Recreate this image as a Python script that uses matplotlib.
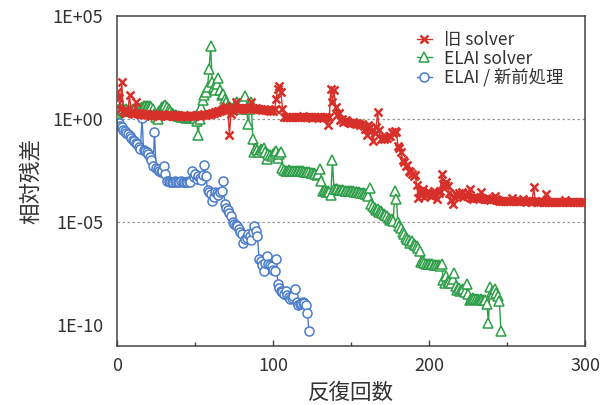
import numpy as np
import matplotlib
matplotlib.use('Agg')
import matplotlib.pyplot as plt
from matplotlib.ticker import NullLocator, MultipleLocator

plt.rcParams['font.family'] = ['Noto Sans CJK JP', 'DejaVu Sans']

# 相対残差 (log10) を反復ごとに読み取り
old_log10 = [
    1.3, 1.0, 0.5, 1.8, 0.4, 0.3, 0.3, 0.4, 1.15, 0.35,
    0.3, 0.25, 0.8, 0.3, 0.25, 0.3, 0.25, 0.2, 0.22, 0.18,
    0.25, 0.2, 0.15, 0.22, 0.2, 0.18, 0.2, 0.15, 0.2, 0.22,
    0.18, 0.2, 0.15, 0.18, 0.2, 0.15, 0.18, 0.15, 0.2, 0.18,
    0.15, 0.12, 0.15, 0.18, 0.15, 0.12, 0.15, 0.18, 0.15, 0.12,
    0.15, 0.18, 0.2, 0.15, 0.18, 0.2, 0.22, 0.2, 0.25, 0.22,
    0.25, 0.28, 0.3, 0.32, 0.35, 0.38, 0.4, 0.42, 0.5, 0.55,
    0.65, 0.5, -0.8, 0.25, 0.4, 0.55, 0.8, 0.55, 0.5, 0.55,
    0.52, 0.5, 0.55, 0.5, 0.52, 0.6, 0.8, 0.55, 0.5, 0.52,
    0.5, 0.48, 0.5, 0.45, 0.48, 0.45, 0.42, 0.45, 0.4, 0.42,
    0.4, 0.5, 0.97, 1.46, 1.62, 1.3, 0.5, 0.1, 0.1, 0.08,
    0.08, 0.1, 0.08, 0.07, 0.08, 0.1, 0.08, 0.08, 0.1, 0.12,
    0.08, 0.07, 0.1, 0.08, 0.08, 0.06, 0.08, 0.07, 0.08, 0.1,
    0.08, 0.08, 0.06, 0.08, 0.07, -0.3, 0.1, 1.46, 0.8, 1.4,
    0.6, 0.2, 0.3, -0.05, 0.0, -0.15, -0.1, -0.05, -0.15, -0.2,
    -0.2, -0.15, -0.2, -0.25, -0.2, -0.25, -0.3, -0.25, -0.35, -0.5,
    -0.8, -0.3, -0.4, -0.6, -1.05, -0.7, -0.4, 0.32, -0.55, -0.95,
    -0.9, -0.95, -0.9, -0.92, -0.85, -0.85, -0.65, -0.7, -0.6, -0.65,
    -1.3, -1.4, -1.6, -2.0, -2.1, -2.3, -2.25, -2.5, -2.55, -2.65,
    -2.75, -2.7, -3.2, -3.85, -3.5, -3.7, -3.4, -3.8, -3.7, -3.6,
    -3.55, -3.75, -3.6, -3.48, -3.7, -3.88, -3.6, -3.5, -2.67, -3.16,
    -3.2, -3.05, -3.25, -3.6, -3.95, -4.13, -3.8, -3.65, -3.75, -3.6,
    -3.7, -3.56, -3.8, -3.7, -3.75, -3.6, -3.4, -3.85, -3.88, -3.8,
    -3.85, -3.82, -3.85, -3.56, -3.85, -3.88, -3.9, -3.88, -3.9, -3.92,
    -3.9, -3.85, -3.72, -3.9, -3.95, -3.97, -3.96, -3.98, -3.97, -3.99,
    -3.98, -3.97, -3.99, -3.85, -3.98, -4.0, -3.99, -3.98, -4.0, -3.99,
    -3.88, -4.0, -4.01, -3.99, -4.0, -4.01, -4.0, -3.32, -4.0, -4.01,
    -4.02, -4.01, -4.0, -4.02, -4.01, -3.64, -4.02, -4.03, -4.02, -4.01,
    -4.02, -4.03, -4.02, -4.03, -4.02, -4.03, -4.02, -3.92, -4.03, -4.04,
    -4.03, -4.02, -4.03, -4.04, -4.03, -4.04, -4.03, -4.04, -4.03, -4.04, -4.04,
]

elai_log10 = [
    0.3, 0.9, 0.5, 0.4, 0.45, 0.4, 0.5, 0.45, 0.4, 0.45,
    0.5, 0.45, 0.4, 0.5, 0.45, 0.55, 0.6, 0.62, 0.63, 0.62,
    0.63, 0.62, 0.6, 0.5, 0.25, 0.1, 0.0, 0.4, 0.5, 0.6,
    0.65, 0.7, 0.6, 0.5, 0.4, 0.3, 0.25, 0.2, 0.2, 0.15,
    0.15, 0.1, 0.1, 0.1, 0.05, 0.1, 0.05, 0.1, 0.05, 0.1,
    0.05, -0.1, -0.8, 0.0, 0.6, 0.9, 1.15, 1.3, 1.55, 2.43,
    3.56, 1.8, 1.55, 1.4, 1.7, 2.0, 1.4, 1.15, 1.2, 0.95,
    0.8, 0.65, 0.6, 0.55, 0.5, 0.6, 0.75, 0.8, 0.6, 0.5,
    0.7, 0.9, 1.13, 0.5, -0.25, 0.5, 0.8, -0.97, -1.6, -1.4,
    -1.5, -1.6, -1.45, -1.5, -1.4, -1.6, -1.95, -1.7, -1.75, -1.8,
    -1.7, -1.6, -1.55, -1.9, -1.7, -1.6, -2.4, -2.48, -2.5, -2.5,
    -2.48, -2.5, -2.5, -2.52, -2.5, -2.5, -2.52, -2.5, -2.52, -2.52,
    -2.55, -2.55, -2.57, -2.58, -2.6, -2.62, -2.63, -2.67, -2.7, -2.65,
    -2.43, -3.0, -3.5, -3.45, -3.55, -3.5, -3.55, -3.7, -2.0, -3.4,
    -3.4, -3.42, -3.43, -3.44, -3.45, -3.46, -3.47, -3.47, -3.48, -3.49,
    -3.5, -3.51, -3.52, -3.52, -3.54, -3.55, -3.57, -3.58, -3.6, -3.62,
    -3.65, -3.72, -3.35, -4.13, -4.2, -4.3, -4.4, -4.35, -4.5, -4.45,
    -4.55, -4.6, -4.65, -4.7, -4.8, -4.9, -4.85, -4.95, -3.5, -3.9,
    -5.0, -5.2, -5.3, -5.5, -5.6, -5.7, -5.8, -5.85, -6.0, -5.9,
    -6.05, -6.1, -6.15, -6.25, -6.4, -6.95, -6.9, -7.0, -7.02, -7.03,
    -7.04, -7.05, -7.05, -7.06, -7.07, -7.08, -7.1, -7.12, -7.05, -7.8,
    -7.95, -7.6, -7.85, -7.9, -7.95, -7.75, -7.45, -8.1, -8.3, -8.2,
    -8.35, -8.3, -8.25, -8.4, -8.0, -8.5, -8.8, -8.75, -8.7, -8.72,
    -8.74, -8.75, -8.76, -8.75, -8.77, -8.78, -8.8, -8.98, -9.87, -8.17,
    -8.4, -8.5, -8.25, -8.45, -8.58, -8.82, -10.28,
]

new_log10 = [
    0.1, -0.2, -0.35, -0.4, -0.55, -0.6, -0.7, -0.75, -0.85, -0.9,
    -1.0, -1.05, -1.15, -1.2, -1.35, -1.45, 0.05, -1.5, -1.55, -1.6,
    -1.7, -1.85, -2.0, -2.3, -0.65, -2.4, -2.45, -2.5, -2.55, -2.5,
    -2.3, -2.65, -3.0, -3.03, -3.04, -3.05, -3.04, -3.03, -3.04, -3.05,
    -3.04, -3.03, -3.04, -3.05, -3.04, -3.04, -3.03, -3.04, -2.5, -2.8,
    -2.65, -2.9, -2.75, -2.85, -2.95, -2.7, -2.25, -2.75, -3.45, -3.55,
    -3.65, -4.0, -3.8, -3.55, -3.6, -3.7, -3.55, -3.5, -3.0, -4.1,
    -4.3, -4.4, -4.55, -4.7, -5.0, -5.1, -5.15, -5.2, -5.35, -5.5,
    -5.6, -6.0, -5.8, -5.75, -5.6, -5.65, -5.85, -5.5, -5.2, -5.45,
    -5.65, -6.8, -6.9, -7.1, -7.35, -7.0, -6.65, -7.05, -7.1, -7.15,
    -7.3, -7.35, -6.8, -8.0, -8.2, -8.35, -8.4, -8.5, -8.35, -8.55,
    -8.65, -8.75, -8.7, -8.6, -8.25, -8.85, -9.0, -8.95, -8.9, -8.85,
    -8.9, -9.0, -9.4, -10.3,
]

labels = ['旧 solver', 'ELAI solver', 'ELAI / 新前処理']
ytick_vals = [1e5, 1e0, 1e-5, 1e-10]
ytick_labels = ['1E+05', '1E+00', '1E-05', '1E-10']
xtick_vals = [0, 100, 200, 300]

red = '#d7302a'
green = '#2e9e48'
blue = '#4a7cc9'
txt = '#333333'

fig = plt.figure(figsize=(6.16, 4.05), dpi=100)
ax = fig.add_axes([0.19, 0.146, 0.76, 0.815])

ax.axhline(1e0, color='#999999', linestyle=(0, (2, 2)), linewidth=0.9, zorder=1)
ax.axhline(1e-5, color='#999999', linestyle=(0, (2, 2)), linewidth=0.9, zorder=1)

ax.plot(np.arange(len(new_log10)), np.power(10.0, new_log10), color=blue,
        linewidth=1.0, marker='o', markersize=6.5, markerfacecolor='white',
        markeredgecolor=blue, markeredgewidth=1.1, label=labels[2], zorder=2)
ax.plot(np.arange(len(elai_log10)), np.power(10.0, elai_log10), color=green,
        linewidth=1.0, marker='^', markersize=6.5, markerfacecolor='white',
        markeredgecolor=green, markeredgewidth=1.1, label=labels[1], zorder=3)
ax.plot(np.arange(len(old_log10)), np.power(10.0, old_log10), color=red,
        linewidth=1.0, marker='x', markersize=5.5, markeredgewidth=1.8,
        label=labels[0], zorder=4)

ax.set_yscale('log')
ax.set_ylim(1e-11, 1e5)
ax.set_xlim(0, 300)
ax.set_yticks(ytick_vals)
ax.set_yticklabels(ytick_labels)
ax.yaxis.set_minor_locator(NullLocator())
ax.set_xticks(xtick_vals)
ax.xaxis.set_minor_locator(MultipleLocator(50))

ax.tick_params(axis='y', length=0, pad=10, labelsize=13, labelcolor=txt)
ax.tick_params(axis='x', which='major', direction='in', length=4, width=1,
               pad=8, labelsize=13, labelcolor=txt, color='#444444')
ax.tick_params(axis='x', which='minor', direction='in', length=3, width=1,
               color='#444444')
for s in ax.spines.values():
    s.set_color('#444444')
    s.set_linewidth(1.1)

ax.set_xlabel('反復回数', fontsize=15.5, color=txt, labelpad=5)
ax.set_ylabel('相対残差', fontsize=15.5, color=txt, labelpad=8)

handles, labs = ax.get_legend_handles_labels()
order = [2, 1, 0]
leg = ax.legend([handles[i] for i in order], [labs[i] for i in order],
                loc='upper left', bbox_to_anchor=(0.64, 0.955), frameon=False,
                fontsize=12.5, handlelength=0.9, handletextpad=0.7,
                labelspacing=0.05, borderpad=0, borderaxespad=0)
for t in leg.get_texts():
    t.set_color(txt)

fig.savefig('out.png', dpi=100)
